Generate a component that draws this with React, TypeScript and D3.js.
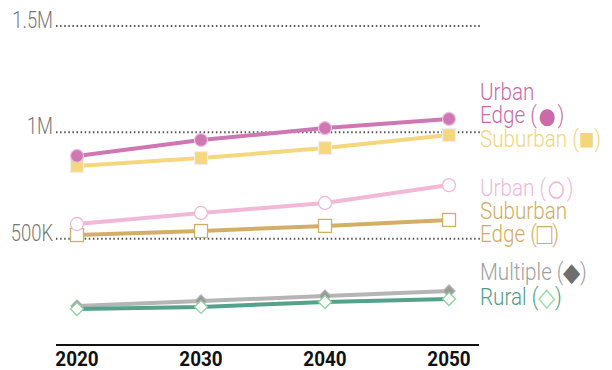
import React from "react";
import * as d3 from "d3";

const years = [2020, 2030, 2040, 2050];
const yTicks = [500000, 1000000, 1500000];
const yTickLabels = ["500K", "1M", "1.5M"];

const urbanEdge = [889000, 964000, 1020000, 1063000];
const suburban = [842000, 879000, 926000, 987000];
const urban = [569000, 621000, 668000, 752000];
const suburbanEdge = [517000, 536000, 560000, 588000];
const multiple = [183000, 207000, 230000, 254000];
const rural = [169000, 179000, 202000, 216000];

const LIGHT = "Roboto, 'Liberation Sans', sans-serif";
const SYM = "'DejaVu Sans', sans-serif";

type Series = {
  name: string;
  values: number[];
  line: string;
  marker: "circle" | "square" | "diamond";
  fill: string;
  stroke: string;
  size: number;
};

const series: Series[] = [
  { name: "multiple", values: multiple, line: "#b5b5b5", marker: "diamond", fill: "#9a9a9a", stroke: "#b5b5b5", size: 6 },
  { name: "rural", values: rural, line: "#55a189", marker: "diamond", fill: "#fff", stroke: "#8fd49f", size: 6.5 },
  { name: "suburbanEdge", values: suburbanEdge, line: "#d3ae68", marker: "square", fill: "#fff", stroke: "#d3ae68", size: 6.5 },
  { name: "urban", values: urban, line: "#f1b8d8", marker: "circle", fill: "#fff", stroke: "#f1b8d8", size: 6.5 },
  { name: "suburban", values: suburban, line: "#f5d77e", marker: "square", fill: "#f5d77e", stroke: "#eee", size: 6.5 },
  { name: "urbanEdge", values: urbanEdge, line: "#cf77b3", marker: "circle", fill: "#cf77b3", stroke: "#e9c3dc", size: 6.5 },
];

function Marker({ s, x, y }: { s: Series; x: number; y: number }) {
  const r = s.size;
  if (s.marker === "circle") {
    return <circle cx={x} cy={y} r={r} fill={s.fill} stroke={s.stroke} strokeWidth={1.3} />;
  }
  if (s.marker === "square") {
    return <rect x={x - r} y={y - r} width={r * 2} height={r * 2} fill={s.fill} stroke={s.stroke} strokeWidth={1.3} />;
  }
  return (
    <path
      d={`M${x},${y - r} L${x + r},${y} L${x},${y + r} L${x - r},${y} Z`}
      fill={s.fill}
      stroke={s.stroke}
      strokeWidth={1.3}
    />
  );
}

// legend symbol inside the label text, resized so it matches the reference glyph size
function Sym({ ch, fill, size, dy }: { ch: string; fill?: string; size: number; dy: number }) {
  return (
    <>
      <tspan fontFamily={SYM} fontSize={size} dy={dy} fill={fill}>
        {ch}
      </tspan>
      <tspan dy={-dy}>)</tspan>
    </>
  );
}

export default function App() {
  const width = 612;
  const height = 370;

  const x = d3.scaleLinear().domain([2020, 2050]).range([77, 449]);
  const y = d3.scaleLinear().domain([0, 1500000]).range([345, 26]);

  const line = d3
    .line<number>()
    .x((d, i) => x(years[i]))
    .y((d) => y(d));

  const labelX = 480;
  const fs = 24;

  return (
    <svg width={width} height={height} style={{ position: "absolute", left: 0, top: 0 }}>
      <rect width={width} height={height} fill="#fff" />
      {yTicks.map((t, i) => (
        <g key={t}>
          <line
            x1={56}
            x2={480}
            y1={y(t)}
            y2={y(t)}
            stroke="#555"
            strokeWidth={2}
            strokeDasharray="1.5 2.6"
          />
          <g transform={`translate(53,${y(t) + 2}) scale(0.8,1)`}>
            <text
              x={0}
              y={0}
              textAnchor="end"
              fontFamily={LIGHT}
              fontWeight={300}
              fontSize={23}
              fill="#777"
            >
              {yTickLabels[i]}
            </text>
          </g>
        </g>
      ))}

      <line x1={56} x2={479} y1={345} y2={345} stroke="#111" strokeWidth={2.2} />
      {years.map((yr) => (
        <g key={yr} transform={`translate(${x(yr)},366) scale(0.9,1)`}>
          <text
            x={0}
            y={0}
            textAnchor="middle"
            fontFamily={LIGHT}
            fontWeight="bold"
            fontSize={21}
            fill="#111"
          >
            {yr}
          </text>
        </g>
      ))}

      {series.map((s) => (
        <g key={s.name}>
          <path d={line(s.values) || ""} fill="none" stroke={s.line} strokeWidth={4} />
          {s.values.map((v, i) => (
            <Marker key={i} s={s} x={x(years[i])} y={y(v)} />
          ))}
        </g>
      ))}

      <g transform={`translate(${labelX},0) scale(0.86,1)`} fontFamily={LIGHT} fontWeight={300} fontSize={fs}>
        <text x={0} y={100} fill="#c96aa9">Urban</text>
        <text x={0} y={123} fill="#c96aa9">
          Edge (<Sym ch="●" size={40} dy={6} />
        </text>
        <text x={0} y={147} fill="#f3d57c">
          Suburban (<Sym ch="■" size={30} dy={2} />
        </text>
        <text x={0} y={196} fill="#f2b8d8">
          Urban (<Sym ch="○" size={40} dy={6} />
        </text>
        <text x={0} y={219} fill="#d2ad66">Suburban</text>
        <text x={0} y={242} fill="#d2ad66">
          Edge (<Sym ch="□" size={30} dy={2} />
        </text>
        <text x={0} y={280} fill="#a0a0a0">
          Multiple (<Sym ch="◆" fill="#6e6e6e" size={26} dy={1} />
        </text>
        <text x={0} y={305} fill="#4e9e86">
          Rural (<Sym ch="◇" fill="#9ad9a8" size={26} dy={1} />
        </text>
      </g>
    </svg>
  );
}
